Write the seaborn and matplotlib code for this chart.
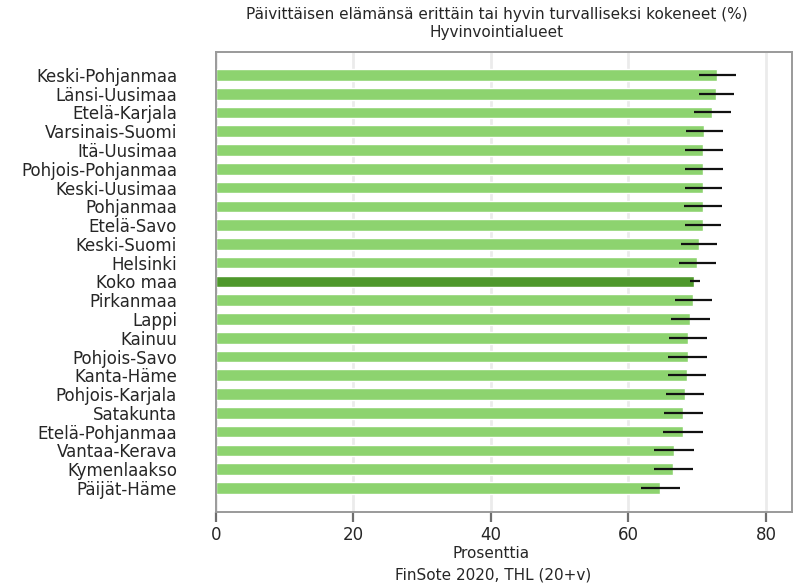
import matplotlib
matplotlib.use("Agg")
import matplotlib.pyplot as plt
import seaborn as sns
import pandas as pd
import numpy as np

regions = [
    "Keski-Pohjanmaa", "Länsi-Uusimaa", "Etelä-Karjala", "Varsinais-Suomi",
    "Itä-Uusimaa", "Pohjois-Pohjanmaa", "Keski-Uusimaa", "Pohjanmaa",
    "Etelä-Savo", "Keski-Suomi", "Helsinki", "Koko maa", "Pirkanmaa",
    "Lappi", "Kainuu", "Pohjois-Savo", "Kanta-Häme", "Pohjois-Karjala",
    "Satakunta", "Etelä-Pohjanmaa", "Vantaa-Kerava", "Kymenlaakso",
    "Päijät-Häme",
]
values = [72.9, 72.7, 72.2, 71.0, 70.9, 70.9, 70.9, 70.8, 70.8, 70.3, 70.0,
          69.6, 69.4, 68.9, 68.7, 68.6, 68.5, 68.2, 68.0, 67.9, 66.6, 66.5,
          64.6]
ci_low = [70.3, 70.2, 69.6, 68.4, 68.2, 68.2, 68.3, 68.1, 68.2, 67.6, 67.3,
          69.0, 66.8, 66.2, 65.9, 65.8, 65.8, 65.5, 65.2, 65.1, 63.7, 63.7,
          61.8]
ci_high = [75.6, 75.4, 74.9, 73.7, 73.7, 73.7, 73.6, 73.6, 73.5, 72.9, 72.8,
           70.4, 72.1, 71.8, 71.5, 71.4, 71.3, 71.0, 70.9, 70.9, 69.5, 69.4,
           67.5]
x_ticks = [0, 20, 40, 60, 80]

df = pd.DataFrame({"alue": regions, "osuus": values,
                   "ala": ci_low, "yla": ci_high})

light = "#8dd36f"
dark = "#4e982b"
palette = {r: (dark if r == "Koko maa" else light) for r in regions}

sns.set_theme(style="ticks")
plt.rcParams["font.family"] = ["DejaVu Sans"]
fs = 12
fs_small = 11
txt = "#262626"

fig = plt.figure(figsize=(8.07, 5.83), dpi=100)
ax = fig.add_axes([216 / 807, 1 - 512 / 583, (792 - 216) / 807, (512 - 52) / 583])

# light vertical guides at each tick
for t in x_ticks:
    ax.axvline(t, color="#ebebeb", lw=2, zorder=0)

sns.barplot(data=df, x="osuus", y="alue", hue="alue", palette=palette,
            legend=False, width=0.62, saturation=1, ax=ax, zorder=2)

# confidence intervals
ypos = np.arange(len(regions))
ax.hlines(ypos, df["ala"], df["yla"], color="#111111", lw=1.6, zorder=3)

ax.set_xlim(0, 83.8)
ax.set_ylim(len(regions) - 1 + 1.28, -1.22)
ax.set_xticks(x_ticks)
ax.set_xticklabels([str(t) for t in x_ticks], fontsize=fs, color=txt)
ax.tick_params(axis="x", bottom=True, direction="out", length=7, width=1.6,
               color="#6e6e6e", pad=3)
ax.tick_params(axis="y", left=False, pad=22)
for lab in ax.get_yticklabels():
    lab.set_fontsize(fs)
    lab.set_color(txt)
ax.set_ylabel("")
ax.set_xlabel("Prosenttia", fontsize=fs_small, color=txt)
ax.xaxis.label.set_verticalalignment("center")
ax.xaxis.set_label_coords((491 - 216) / 576, (512 - 553) / 460)

for s in ax.spines.values():
    s.set_visible(True)
    s.set_color("#9a9a9a")
    s.set_linewidth(1.4)

fig.text(497 / 807, 1 - 14 / 583,
         "Päivittäisen elämänsä erittäin tai hyvin turvalliseksi kokeneet (%)",
         ha="center", va="center", fontsize=fs_small, color=txt)
fig.text(497 / 807, 1 - 32 / 583, "Hyvinvointialueet",
         ha="center", va="center", fontsize=fs_small, color=txt)
fig.text(493 / 807, 1 - 575 / 583, "FinSote 2020, THL (20+v)",
         ha="center", va="center", fontsize=fs_small, color=txt)

fig.savefig("out.png", dpi=100)
